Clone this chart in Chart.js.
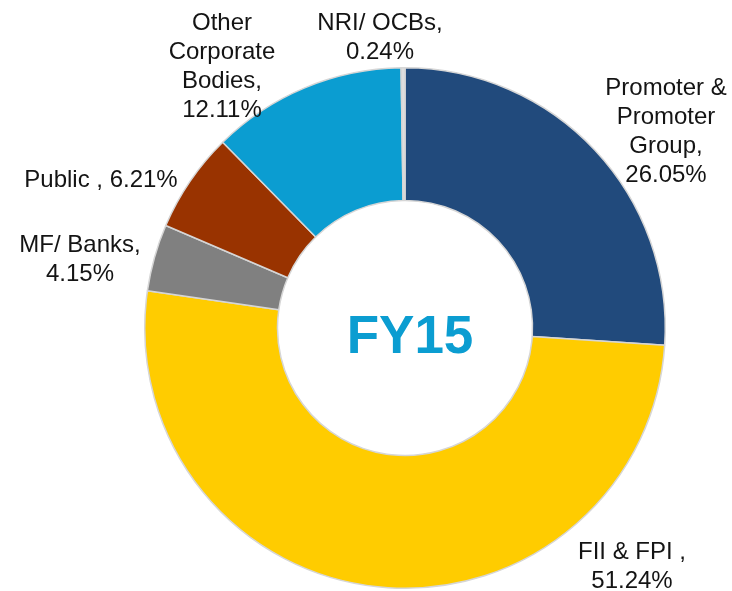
<!DOCTYPE html>
<html>
<head>
<meta charset="utf-8">
<script src="https://cdn.jsdelivr.net/npm/chart.js@4"></script>
<style>
  html, body { margin: 0; padding: 0; background: #ffffff; }
  #wrap { position: relative; width: 732px; height: 591px; }
</style>
</head>
<body>
<div id="wrap"><canvas id="myChart" width="732" height="591"></canvas></div>
<script>
// shareholding pattern, clockwise from 12 o'clock
var categories = ['Promoter & Promoter Group', 'FII & FPI', 'MF/ Banks', 'Public', 'Other Corporate Bodies', 'NRI/ OCBs'];
var shares = [26.05, 51.24, 4.15, 6.21, 12.11, 0.24];
var centerTitle = 'FY15';

// how each label is wrapped on the picture
var labelLines = [
  ['Promoter &', 'Promoter', 'Group,', '26.05%'],
  ['FII & FPI ,', '51.24%'],
  ['MF/ Banks,', '4.15%'],
  ['Public , 6.21%'],
  ['Other', 'Corporate', 'Bodies,', '12.11%'],
  ['NRI/ OCBs,', '0.24%']
];

var sliceColors = ['#214a7c', '#ffcc00', '#808080', '#993300', '#0b9dd1', '#dedede'];

// where each label block sits (center of first line)
var labelAnchor = [
  [666, 88], [632, 552], [80, 245], [101, 180], [222, 23], [380, 23]
];
var lineGap = 29;

var labelPlugin = {
  id: 'sliceLabels',
  afterDatasetsDraw: function (chart) {
    var ctx = chart.ctx;
    ctx.save();
    ctx.fillStyle = '#141414';
    ctx.font = '24px "Liberation Sans", Arial, sans-serif';
    ctx.textAlign = 'center';
    ctx.textBaseline = 'middle';
    labelLines.forEach(function (lines, i) {
      var a = labelAnchor[i];
      lines.forEach(function (t, j) {
        ctx.fillText(t, a[0], a[1] + j * lineGap);
      });
    });
    var arc = chart.getDatasetMeta(0).data[0];
    ctx.fillStyle = '#0b9dd1';
    ctx.font = 'bold 53px "Liberation Sans", Arial, sans-serif';
    ctx.fillText(centerTitle, arc.x + 5, arc.y + 10);
    ctx.restore();
  }
};

var ctx = document.getElementById('myChart').getContext('2d');
var myChart = new Chart(ctx, {
  type: 'doughnut',
  data: {
    labels: categories,
    datasets: [{
      data: shares,
      backgroundColor: sliceColors,
      borderColor: '#d6d6d6',
      borderWidth: 1.5
    }]
  },
  options: {
    responsive: false,
    animation: false,
    cutout: '49%',
    rotation: 0,
    layout: { padding: { top: 67, bottom: 2, left: 144, right: 66 } },
    plugins: {
      legend: { display: false },
      tooltip: { enabled: false }
    }
  },
  plugins: [labelPlugin]
});
</script>
</body>
</html>
